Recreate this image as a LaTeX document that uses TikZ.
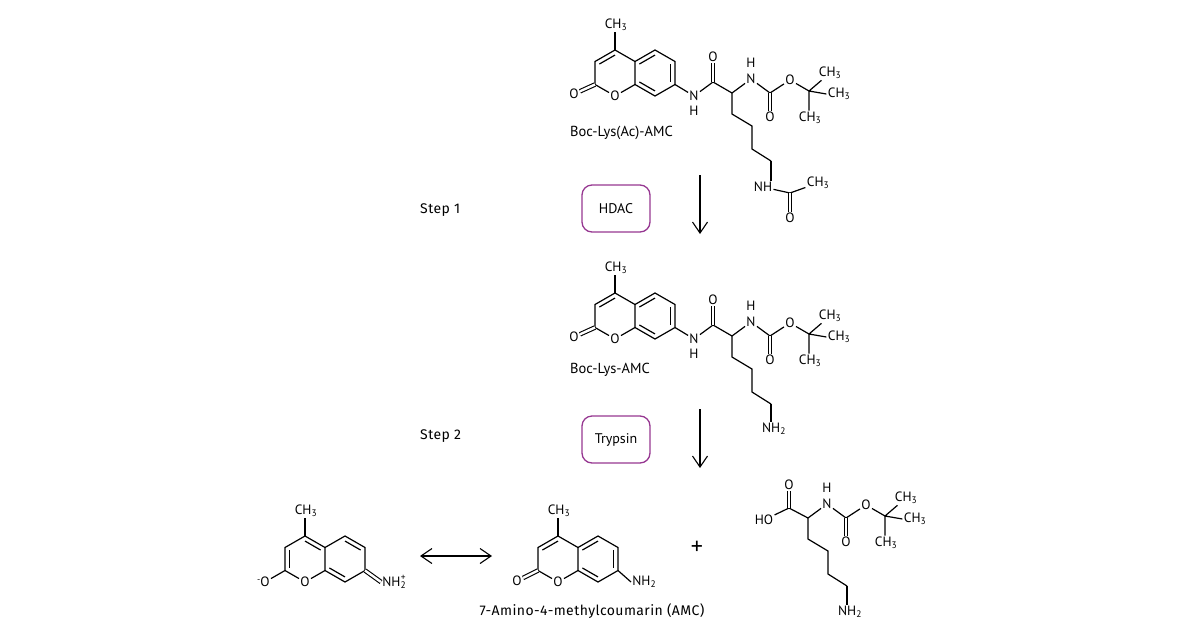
\documentclass[tikz,border=0pt]{standalone}
\usepackage{fontspec}
\setmainfont{PT Sans}
\newfontfamily\capfont[LetterSpace=3]{Fira Sans}
\usetikzlibrary{calc,arrows.meta}
\definecolor{enzyme}{RGB}{150,55,145}
\tikzset{
  bond/.style={line width=1.2pt},
  dbond/.style={line width=1.1pt, double, double distance=2.4pt},
  atom/.style={inner sep=1.2pt, font=\fontsize{13.5}{15}\selectfont},
  caption/.style={inner sep=0pt, font=\fontsize{14.5}{16}\selectfont},
  stepcap/.style={inner sep=0pt, font=\capfont\fontsize{14}{16}\selectfont},
  enzbox/.style={draw=enzyme, line width=1.3pt, rounded corners=10pt, minimum width=68pt, minimum height=47pt, font=\fontsize{14}{16}\selectfont},
  rxn/.style={line width=1.1pt, -{Straight Barb[length=11pt,width=15pt]}},
  rxnboth/.style={line width=1.1pt, {Straight Barb[length=11pt,width=15pt]}-{Straight Barb[length=11pt,width=15pt]}},
}
% coumarin core: prefix, position of C4
\def\coumarin#1(#2){%
  \begin{scope}[shift={(#2)}]
    \coordinate (#1c4) at (0,0);
    \coordinate (#1c4a) at (20,11.5);
    \coordinate (#1c8a) at (20,34.5);
    \node[atom] (#1o1) at (0,46) {O};
    \coordinate (#1c2) at (-20,34.5);
    \coordinate (#1c3) at (-20,11.5);
    \coordinate (#1c5) at (40,0);
    \coordinate (#1c6) at (60,11.5);
    \coordinate (#1c7) at (60,34.5);
    \coordinate (#1c8) at (40,46);
    \coordinate (#1lc) at (0,23);
    \coordinate (#1rc) at (40,23);
    \node[atom] (#1me) at (1,-25) {CH\textsubscript{3}};
  \end{scope}
  \draw[bond] (#1c2) -- (#1c3) -- (#1c4) -- (#1c4a) -- (#1c5) -- (#1c6) -- (#1c7) -- (#1c8) -- (#1c8a) -- (#1c4a);
  \draw[bond] (#1c2) -- (#1o1) -- (#1c8a);
  \draw[bond] (#1c4) -- (#1c4 |- #1me.south);
}
% inner line of a ring double bond
\def\inner(#1)(#2)(#3){\draw[bond] ($(#3)!.78!(#1)$) -- ($(#3)!.78!(#2)$);}
% Boc-lysyl part: prefix, position of C alpha
\def\boclys#1(#2){%
  \begin{scope}[shift={(#2)}]
    \coordinate (#1ca) at (0,0);
    \node[atom] (#1n) at (19,-14) {N};
    \node[atom] (#1nh) at (19,-30) {H};
    \coordinate (#1cc) at (38,0);
    \node[atom] (#1oc) at (38,24) {O};
    \node[atom] (#1oe) at (58,-13) {O};
    \coordinate (#1cq) at (77,-2);
    \node[atom] (#1m1) at (98,-20) {CH\textsubscript{3}};
    \node[atom] (#1m2) at (107,1) {CH\textsubscript{3}};
    \node[atom] (#1m3) at (78,25) {CH\textsubscript{3}};
    \coordinate (#1s1) at (0,21);
    \coordinate (#1s2) at (20,33);
    \coordinate (#1s3) at (20,56);
    \coordinate (#1s4) at (39,68);
  \end{scope}
  \draw[bond] (#1ca) -- (#1n) -- (#1cc) -- (#1oe) -- (#1cq);
  \draw[dbond] (#1cc) -- (#1oc);
  \draw[bond] (#1cq) -- (#1m1) (#1cq) -- (#1m2.west) (#1cq) -- (#1cq |- #1m3.north);
  \draw[bond] (#1ca) -- (#1s1) -- (#1s2) -- (#1s3) -- (#1s4);
}

\begin{document}
\begin{tikzpicture}[x=1pt,y=-1pt]
  \useasboundingbox (0,0) rectangle (1200,630);

  % Boc-Lys(Ac)-AMC
  \coumarin t(615,50)
  \inner(tc3)(tc4)(tlc) \inner(tc4a)(tc5)(trc) \inner(tc6)(tc7)(trc) \inner(tc8)(tc8a)(trc)
  \node[atom] (tox) at (574,94) {O};
  \draw[dbond] (tc2) -- (tox);
  \boclys t(732,93)
  \node[atom] (tn) at (694,96) {N};
  \node[atom] (tnh) at (694,111) {H};
  \coordinate (tco) at (713,82);
  \node[atom] (tcoo) at (713,57) {O};
  \draw[bond] (tc7) -- (tn) -- (tco) -- (tca);
  \draw[dbond] (tco) -- (tcoo);
  \node[atom] (tac) at (763,187) {NH};
  \coordinate (tacc) at (790,193);
  \node[atom] (taco) at (790,218) {O};
  \node[atom] (tacm) at (818,183) {CH\textsubscript{3}};
  \draw[bond] (ts4) -- (ts4 |- tac.north);
  \draw[bond] (tac) -- (tacc) -- (tacm);
  \draw[dbond] (tacc) -- (taco);
  \node[caption, anchor=west] (tname) at (570,133) {Boc-Lys(Ac)-AMC};

  % step 1
  \node[stepcap, anchor=west] (step1) at (420,210) {Step 1};
  \node[enzbox] (hdac) at (616,208.5) {HDAC};
  \coordinate (a1s) at (700,175);
  \coordinate (a1e) at (700,234);
  \draw[rxn] (a1s) -- (a1e);

  % Boc-Lys-AMC
  \coumarin m(615,293)
  \inner(mc3)(mc4)(mlc) \inner(mc4a)(mc5)(mrc) \inner(mc6)(mc7)(mrc) \inner(mc8)(mc8a)(mrc)
  \node[atom] (mox) at (574,337) {O};
  \draw[dbond] (mc2) -- (mox);
  \boclys m(732,336)
  \node[atom] (mn) at (694,339) {N};
  \node[atom] (mnh) at (694,354) {H};
  \coordinate (mco) at (713,325);
  \node[atom] (mcoo) at (713,300) {O};
  \draw[bond] (mc7) -- (mn) -- (mco) -- (mca);
  \draw[dbond] (mco) -- (mcoo);
  \node[atom] (mnh2) at (774,429) {NH\textsubscript{2}};
  \draw[bond] (ms4) -- (ms4 |- mnh2.north);
  \node[caption, anchor=west] (mname) at (570,370) {Boc-Lys-AMC};

  % step 2
  \node[stepcap, anchor=west] (step2) at (420,436) {Step 2};
  \node[enzbox] (tryp) at (616,439.5) {Trypsin};
  \coordinate (a2s) at (700,409);
  \coordinate (a2e) at (700,468);
  \draw[rxn] (a2s) -- (a2e);

  % AMC, resonance form
  \coumarin r(305,536)
  \inner(rc2)(rc3)(rlc) \inner(rc4)(rc4a)(rlc) \inner(rc5)(rc6)(rrc) \inner(rc8)(rc8a)(rrc)
  \node[atom] (rox) at (265,582) {\llap{\raisebox{4.5pt}{\small -}}O};
  \draw[bond] (rc2) -- (rox);
  \node[atom, anchor=west] (rnh) at (381,582) {NH\textsubscript{2}\llap{\textsuperscript{+}}};
  \draw[dbond] (rc7) -- (rnh.west);
  \coordinate (r1) at (420,556);
  \coordinate (r2) at (492,556);
  \draw[rxnboth] (r1) -- (r2);

  % AMC
  \coumarin a(558,536)
  \inner(ac3)(ac4)(alc) \inner(ac4a)(ac5)(arc) \inner(ac6)(ac7)(arc) \inner(ac8)(ac8a)(arc)
  \node[atom] (aox) at (517,581) {O};
  \draw[dbond] (ac2) -- (aox);
  \node[atom, anchor=west] (anh) at (631,582) {NH\textsubscript{2}};
  \draw[bond] (ac7) -- (anh.west);
  \node[stepcap] (aname) at (592,611) {7-Amino-4-methylcoumarin (AMC)};
  \node[font=\fontsize{24}{24}\selectfont] (plus) at (697,548) {+};

  % Boc-Lys
  \boclys b(808,518)
  \coordinate (bcc) at (789,508);
  \node[atom] (bco) at (789,485) {O};
  \node[atom] (bho) at (764,520) {HO};
  \draw[bond] (bho) -- (bcc) -- (bca);
  \draw[dbond] (bcc) -- (bco);
  \node[atom] (bnh2) at (850,612) {NH\textsubscript{2}};
  \draw[bond] (bs4) -- (bs4 |- bnh2.north);
\end{tikzpicture}
\end{document}
